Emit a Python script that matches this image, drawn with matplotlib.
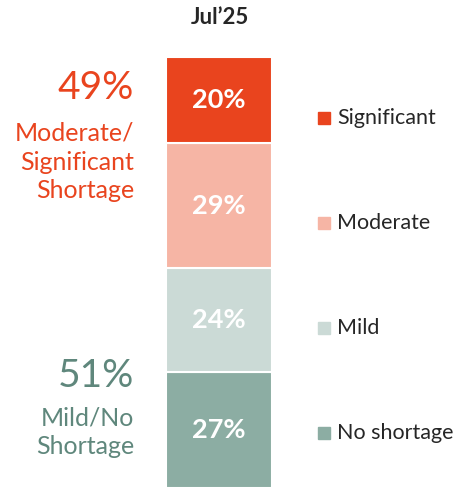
import matplotlib
matplotlib.use("Agg")
import matplotlib.pyplot as plt

# Data
categories = ["No shortage", "Mild", "Moderate", "Significant"]
values = [27, 24, 29, 20]
colors = ["#8CADA3", "#CBDAD6", "#F6B5A5", "#E9441E"]
period = "Jul\u201925"
group_top_value = "49%"
group_top_label = "Moderate/\nSignificant\nShortage"
group_bottom_value = "51%"
group_bottom_label = "Mild/No\nShortage"

plt.rcParams['font.family'] = ['Lato', 'DejaVu Sans']

W, H = 456, 488
fig = plt.figure(figsize=(W / 100, H / 100), dpi=100)

def fx(x):
    return x / W

def fy(y):
    return 1 - y / H

bar_left, bar_right, bar_top = 166, 272, 57
ax = fig.add_axes([fx(bar_left), 0, (bar_right - bar_left) / W, (H - bar_top) / H])
ax.set_xlim(-0.5, 0.5)
ax.set_ylim(0, sum(values))
ax.axis("off")

bottom = 0
for cat, v, c in zip(categories, values, colors):
    ax.bar(0, v, width=1.0, bottom=bottom, color=c, edgecolor="white", linewidth=1.5)
    ax.text(0, bottom + v / 2, f"{v}%", ha="center", va="center", color="white",
            fontsize=19.5, fontweight="bold")
    bottom += v

fig.text(fx(220), fy(18), period, ha="center", va="center", fontsize=16,
         fontweight="bold", color="#262626")

orange = "#E9441E"
green = "#5F877C"
fig.text(fx(134), fy(88), group_top_value, ha="right", va="center", fontsize=28, color=orange)
fig.text(fx(134), fy(162), group_top_label, ha="right", va="center", fontsize=18,
         color=orange, linespacing=1.3)
fig.text(fx(134), fy(376), group_bottom_value, ha="right", va="center", fontsize=28, color=green)
fig.text(fx(134), fy(432), group_bottom_label, ha="right", va="center", fontsize=18,
         color=green, linespacing=1.3)

# Legend (top to bottom)
legend_y = [118, 223, 328, 433]
for (cat, c), y in zip(list(zip(categories, colors))[::-1], legend_y):
    fig.patches.append(plt.Rectangle((fx(318), fy(y + 6)), 12 / W, 12 / H,
                                     transform=fig.transFigure, color=c, figure=fig))
    fig.text(fx(337), fy(y), cat, ha="left", va="center", fontsize=15.5, color="#262626")

fig.savefig("out.png", dpi=100)
